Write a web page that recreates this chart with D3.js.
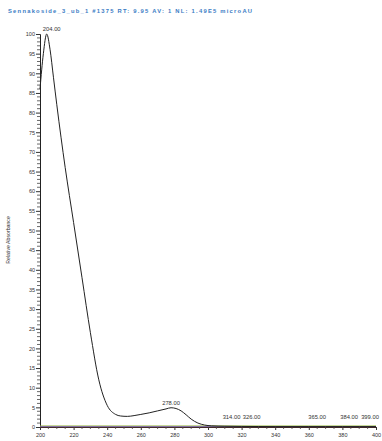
<!DOCTYPE html>
<html><head><meta charset="utf-8">
<script src="https://cdn.jsdelivr.net/npm/d3@7"></script>
<style>body{margin:0;background:#fff}svg{display:block}</style>
</head><body>
<svg id="c" width="382" height="441"></svg>
<script>
const title = "Sennakoside_3_ub_1 #1375   RT: 9.95   AV: 1   NL: 1.49E5   microAU";
const yLabel = "Relative Absorbance";
const xTicks = [200,220,240,260,280,300,320,340,360,380,400];
const yTicks = [0,5,10,15,20,25,30,35,40,45,50,55,60,65,70,75,80,85,90,95,100];
const wavelength = [200,202,204,206,208,210,215,220,225,230,235,240,245,248,252,256,260,265,270,275,278,281,284,287,290,294,298,302,310,320,330,340,350,360,370,380,390,400];
const absorbance = [86,95,100,96,89,82,66,52,38,24,12,5.5,3.2,2.8,2.7,2.9,3.2,3.6,4.1,4.6,4.9,4.7,4.1,3.1,2.0,1.0,0.5,0.3,0.2,0.15,0.12,0.1,0.1,0.1,0.1,0.1,0.1,0.1];
const peakLabels = [{nm:204,v:100,t:"204.00"},{nm:278,v:4.9,t:"278.00"},{nm:314,v:1.2,t:"314.00"},{nm:326,v:1.2,t:"326.00"},{nm:365,v:1.2,t:"365.00"},{nm:384,v:1.2,t:"384.00"},{nm:399,v:1.2,t:"399.00"}];
const traceColors = ["#e05a2a","#2a6fd6","#d4c21a","#3aa84a","#8a3ab8"];
const traceOffsets = [0.05,0.15,0.3,0.22,0.1];

const svg = d3.select("#c");
const x = d3.scaleLinear().domain([200,400]).range([40,376]);
const y = d3.scaleLinear().domain([0,100]).range([427,34]);

svg.append("text").attr("x",8).attr("y",13).attr("font-family","Liberation Sans, Arial, sans-serif")
  .attr("font-size",5.8).attr("font-weight","bold").attr("fill","#3a7cc4")
  .attr("textLength",244).attr("lengthAdjust","spacing").text(title);

// y axis
const ya = svg.append("g").attr("transform","translate(40,0)");
ya.call(d3.axisLeft(y).tickValues(yTicks).tickSize(4).tickFormat(d3.format("d")));
ya.select(".domain").attr("stroke","#222");
ya.selectAll("text").attr("font-size",5.5).attr("font-family","Liberation Sans, Arial, sans-serif").attr("fill","#333").attr("x",-5);
ya.selectAll(".tick line").attr("stroke","#333");
ya.append("g").selectAll("line").data(d3.range(0,101,1).filter(v=>v%5)).join("line")
  .attr("x1",-3).attr("x2",0).attr("y1",d=>y(d)).attr("y2",d=>y(d)).attr("stroke","#444").attr("stroke-width",0.8);

// x axis
const xa = svg.append("g").attr("transform","translate(0,427)");
xa.call(d3.axisBottom(x).tickValues(xTicks).tickSize(3).tickFormat(d3.format("d")));
xa.select(".domain").attr("stroke","#222");
xa.selectAll("text").attr("font-size",5.5).attr("font-family","Liberation Sans, Arial, sans-serif").attr("fill","#333").attr("y",6);
xa.selectAll(".tick line").attr("stroke","#333");
xa.append("g").selectAll("line").data(d3.range(200,401,5).filter(v=>v%20)).join("line")
  .attr("x1",d=>x(d)).attr("x2",d=>x(d)).attr("y1",0).attr("y2",2).attr("stroke","#444").attr("stroke-width",0.8);

svg.append("text").attr("transform","translate(10,240) rotate(-90)").attr("text-anchor","middle")
  .attr("font-size",5.2).attr("font-family","Liberation Sans, Arial, sans-serif").attr("fill","#333").text(yLabel);

// colored baseline traces
const baseNm = [200,400];
traceColors.forEach((c,i)=>{
  svg.append("path").datum(baseNm.map(n=>[n,traceOffsets[i]]))
    .attr("d",d3.line().x(d=>x(d[0])).y(d=>y(d[1])))
    .attr("stroke",c).attr("stroke-width",0.7).attr("fill","none").attr("opacity",0.75);
});

// main trace
const line = d3.line().x((d,i)=>x(wavelength[i])).y(d=>y(d)).curve(d3.curveMonotoneX);
svg.append("path").datum(absorbance).attr("d",line).attr("fill","none").attr("stroke","#222").attr("stroke-width",1);

svg.append("g").selectAll("text").data(peakLabels).join("text")
  .attr("x",d=>Math.min(x(d.nm)+(d.nm===204?5:0),370)).attr("y",d=>y(d.v)-3).attr("text-anchor","middle")
  .attr("font-size",5.8).attr("font-family","Liberation Sans, Arial, sans-serif").attr("fill","#333").text(d=>d.t);
</script>
</body></html>
